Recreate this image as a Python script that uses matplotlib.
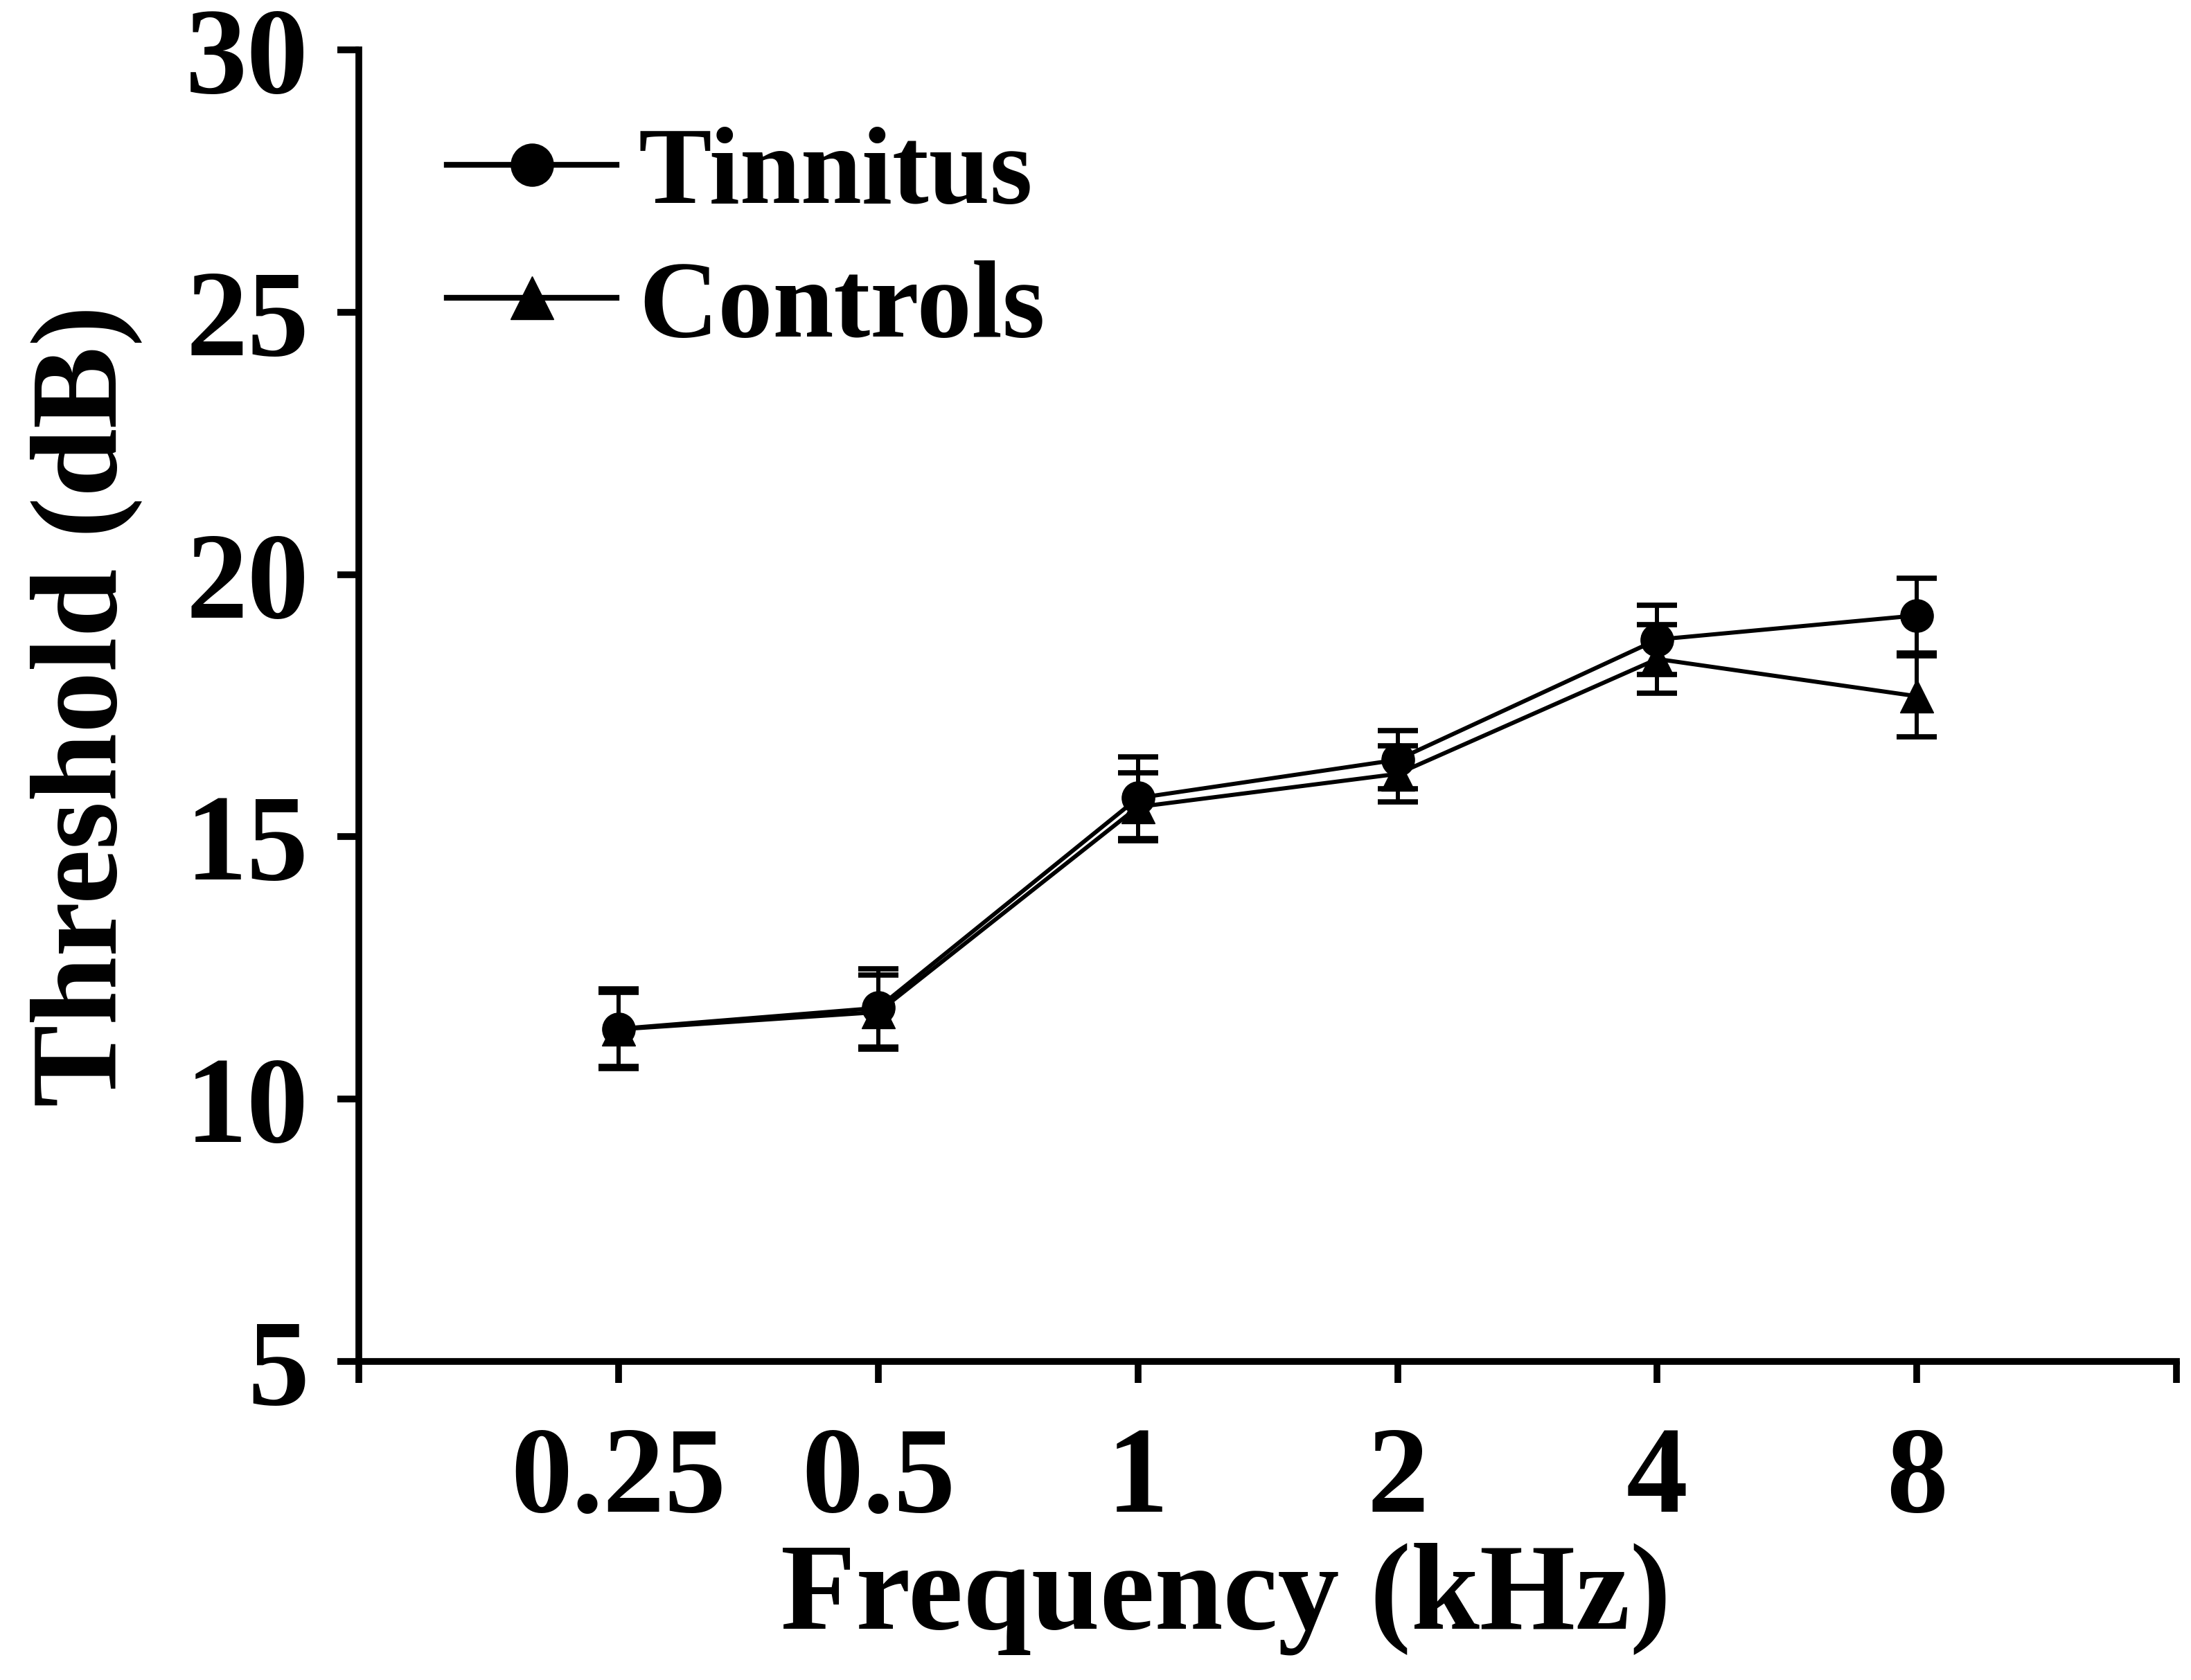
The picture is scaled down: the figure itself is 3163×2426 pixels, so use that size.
import numpy as np
import matplotlib
matplotlib.use('Agg')
import matplotlib.pyplot as plt
from matplotlib.lines import Line2D

plt.rcParams['font.family'] = ['Liberation Serif', 'DejaVu Serif']
plt.rcParams['font.weight'] = 'bold'

freqs = ['0.25', '0.5', '1', '2', '4', '8']
tinnitus = [11.34, 11.74, 15.74, 16.47, 18.76, 19.22]
tinnitus_err = [0.76, 0.75, 0.78, 0.56, 0.66, 0.71]
controls = [11.33, 11.66, 15.57, 16.20, 18.39, 17.68]
controls_err = [0.70, 0.70, 0.65, 0.53, 0.65, 0.77]

fig = plt.figure(figsize=(31.63, 24.26), dpi=100)
ax = fig.add_axes([0.1638, 0.1896, 0.8296, 0.7807])

x = np.arange(len(freqs))

ax.errorbar(x, controls, yerr=controls_err, color='black', marker='^',
            markersize=34, linewidth=4.3, elinewidth=4.3, capsize=21,
            capthick=5.5)
ax.errorbar(x, tinnitus, yerr=tinnitus_err, color='black', marker='o',
            markersize=34, linewidth=4.3, elinewidth=4.3, capsize=21,
            capthick=5.5)

ax.set_xlim(-1, 6)
ax.set_ylim(5, 30)
ax.set_xticks(np.arange(-1, 7))
ax.set_xticklabels([''] + freqs + [''])
ax.set_yticks(np.arange(5, 31, 5))

for s in ['top', 'right']:
    ax.spines[s].set_visible(False)
for s in ['left', 'bottom']:
    ax.spines[s].set_linewidth(7)

ax.tick_params(axis='both', direction='out', length=22, width=7,
               labelsize=128)
ax.tick_params(axis='x', pad=45)
ax.tick_params(axis='y', pad=30)

ax.set_xlabel('Frequency (kHz)', fontsize=128, fontweight='bold')
ax.xaxis.set_label_coords(0.477, -0.138)
ax.set_ylabel('Threshold (dB)', fontsize=128, fontweight='bold', labelpad=45)

handles = [Line2D([], [], color='black', marker='o', markersize=44, linewidth=6),
           Line2D([], [], color='black', marker='^', markersize=44, linewidth=6)]
ax.legend(handles, ['Tinnitus', 'Controls'], loc='upper left',
          bbox_to_anchor=(-0.006, 1.017), frameon=False, fontsize=114,
          handlelength=1.55, handletextpad=0.2, labelspacing=0.3)

fig.savefig('out.png', dpi=100)
